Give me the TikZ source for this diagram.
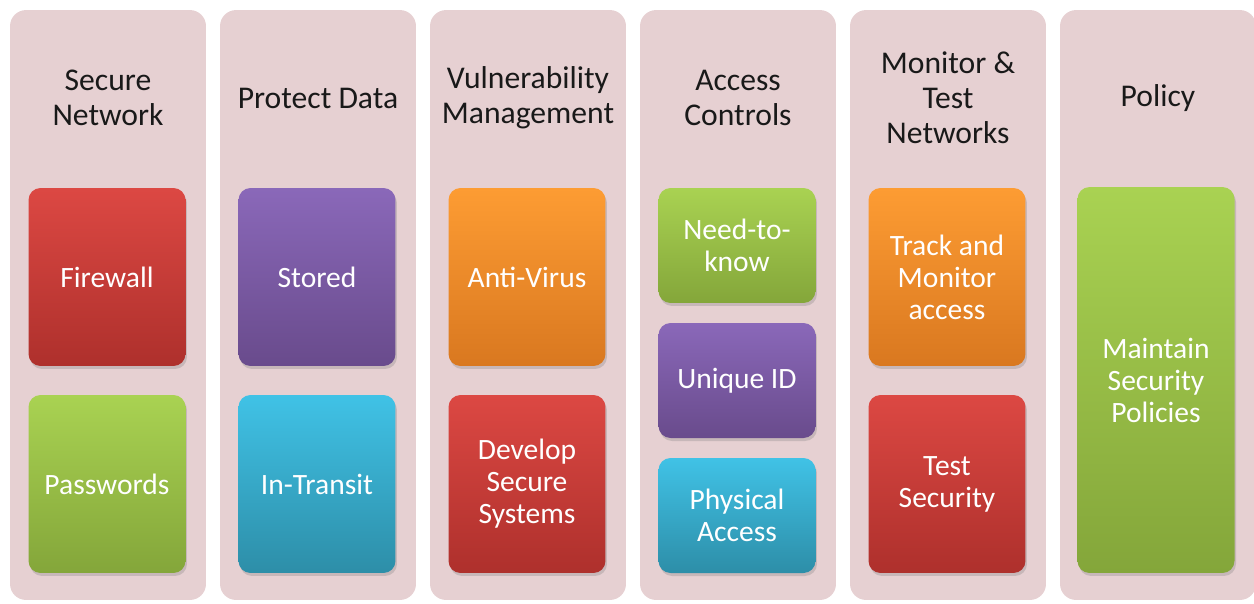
\documentclass[tikz,border=0pt]{standalone}
\usepackage{fontspec}
\setmainfont{Carlito}
\usetikzlibrary{shadows}
\definecolor{panelpink}{HTML}{E6D0D2}
\definecolor{redtop}{HTML}{DC4843}
\definecolor{redbot}{HTML}{AE302C}
\definecolor{greentop}{HTML}{A9D252}
\definecolor{greenbot}{HTML}{84A63A}
\definecolor{purpletop}{HTML}{8A68B9}
\definecolor{purplebot}{HTML}{694B8C}
\definecolor{cyantop}{HTML}{40C2E6}
\definecolor{cyanbot}{HTML}{2D8EA8}
\definecolor{orangetop}{HTML}{FD9C33}
\definecolor{orangebot}{HTML}{D97820}
\tikzset{
  panel/.style={fill=panelpink,rounded corners=0.32cm,minimum width=3.92cm,minimum height=11.8cm,inner sep=0pt},
  title/.style={align=center,font=\fontsize{18}{19.9}\selectfont,text=black!90},
  card/.style={rounded corners=0.24cm,minimum width=3.14cm,minimum height=3.56cm,inner sep=0pt,
    align=center,text=white,font=\fontsize{16.8}{18.2}\selectfont,
    top color=#1top,bottom color=#1bot,
    drop shadow={opacity=0.3,shadow xshift=0.03cm,shadow yshift=-0.06cm}},
  cardshort/.style={minimum height=2.3cm},
  cardtall/.style={minimum height=7.72cm}
}
\begin{document}
\begin{tikzpicture}[x=0.02cm,y=-0.02cm]
\useasboundingbox (0,0) rectangle (1254,603);
\foreach \i/\x/\t in {1/108/{Secure\\Network},2/318/{Protect Data},3/528/{Vulnerability\\Management},
  4/738/{Access\\Controls},5/948/{Monitor \&\\Test\\Networks},6/1158/{Policy}}
{
\node[panel] (p\i) at (\x,305) {};
\node[title] (t\i) at (\x,98) {\t};
}
\node[card=red] (fire) at (107,277) {Firewall};
\node[card=green] (pass) at (107,484) {Passwords};
\node[card=purple] (stored) at (317,277) {Stored};
\node[card=cyan] (transit) at (317,484) {In-Transit};
\node[card=orange] (virus) at (527,277) {Anti-Virus};
\node[card=red] (develop) at (527,484) {Develop\\Secure\\Systems};
\node[card=green,cardshort] (need) at (737,245.5) {Need-to-\\know};
\node[card=purple,cardshort] (unique) at (737,380.5) {Unique ID};
\node[card=cyan,cardshort] (phys) at (737,515.5) {Physical\\Access};
\node[card=orange] (track) at (947,277) {Track and\\Monitor\\access};
\node[card=red] (test) at (947,484) {Test\\Security};
\node[card=green,cardtall] (maintain) at (1156,380) {Maintain\\Security\\Policies};
\end{tikzpicture}
\end{document}
